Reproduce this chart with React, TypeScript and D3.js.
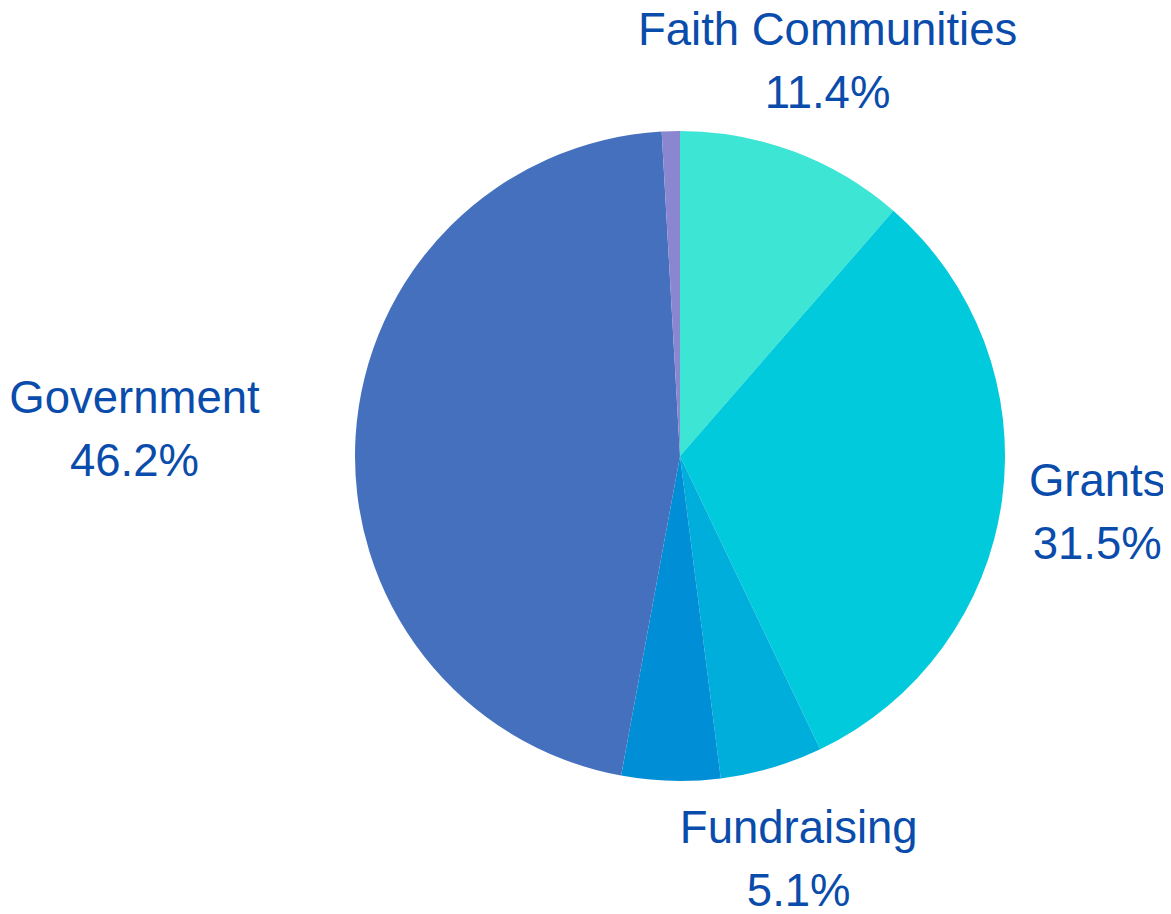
import React, { useEffect, useRef } from "react";
import * as d3 from "d3";

const categories = ["Faith Communities", "Grants", "Fundraising", "Other", "Government", "Miscellaneous"];
const values = [11.4, 31.5, 5.1, 4.9, 46.2, 0.9];
const showLabel = [true, true, true, false, true, false];
const colors = ["#3CE5D4", "#00CADB", "#00AEDB", "#008ED6", "#4470BE", "#8B86D0"];

const W = 1171;
const H = 914;
const CX = 680;
const CY = 456;
const R = 325;
const LABEL_R = 421;
const FONT = 45.5;
const LINE_GAP = 63;

export default function App() {
  const ref = useRef<SVGSVGElement | null>(null);

  useEffect(() => {
    const svg = d3.select(ref.current);
    svg.selectAll("*").remove();
    const g = svg.append("g").attr("transform", `translate(${CX},${CY})`);

    const pie = d3.pie<number>().sort(null).value((d) => d);
    const arcs = pie(values);
    const arc = d3.arc<d3.PieArcDatum<number>>().innerRadius(0).outerRadius(R);

    g.selectAll("path.slice")
      .data(arcs)
      .join("path")
      .attr("class", "slice")
      .attr("d", arc)
      .attr("fill", (_, i) => colors[i]);

    arcs.forEach((a, i) => {
      if (!showLabel[i]) return;
      const mid = (a.startAngle + a.endAngle) / 2;
      const ax = LABEL_R * Math.sin(mid);
      const ay = -LABEL_R * Math.cos(mid);
      const t = g
        .append("text")
        .attr("font-family", "'Liberation Sans', Arial, sans-serif")
        .attr("font-size", FONT)
        .attr("fill", "#0A4CAB")
        .attr("text-anchor", "middle");
      t.append("tspan").attr("x", ax).attr("y", ay - LINE_GAP / 2 + FONT * 0.33).text(categories[i]);
      t.append("tspan")
        .attr("x", ax)
        .attr("y", ay + LINE_GAP / 2 + FONT * 0.33)
        .text(values[i].toFixed(1) + "%");
      const node = t.node() as SVGTextElement;
      const bb = node.getBBox();
      // push label outward horizontally if it overlaps the pie
      let dx = 0;
      if (ax < 0 && bb.x + bb.width > -R && Math.abs(ay) < R) dx = -bb.width / 2;
      if (ax > 0 && bb.x < R && Math.abs(ay) < R * 0.9) dx = bb.width / 2;
      if (dx !== 0) t.selectAll("tspan").attr("x", ax + dx);
    });
  }, []);

  return (
    <div style={{ margin: -8 }}>
      <svg ref={ref} width={W} height={H} style={{ display: "block", background: "#fff" }} />
    </div>
  );
}
